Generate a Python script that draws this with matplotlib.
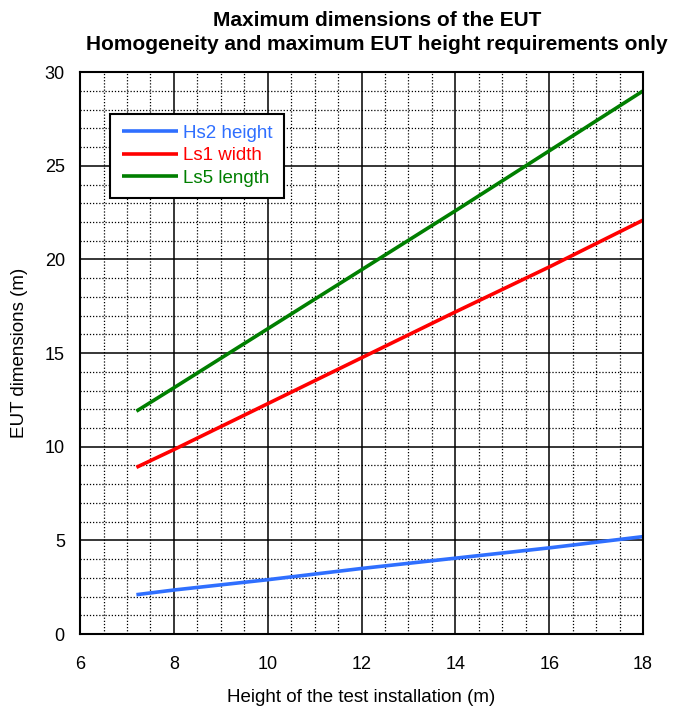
import matplotlib

matplotlib.use("Agg")
import matplotlib.pyplot as plt
from matplotlib.ticker import MultipleLocator

plt.rcParams["font.family"] = ["Liberation Sans", "DejaVu Sans"]

# test installation height (m)
install_height = [7.2, 8, 10, 12, 14, 16, 18]

# EUT dimensions (m)
hs2_height = [2.1, 2.35, 2.9, 3.5, 4.05, 4.6, 5.2]
ls1_width = [8.9, 9.85, 12.3, 14.75, 17.2, 19.6, 22.1]
ls5_length = [11.9, 13.15, 16.3, 19.45, 22.6, 25.8, 29.0]

series_labels = ["Hs2 height", "Ls1 width", "Ls5 length"]
series_colors = ["#2F6FFF", "#FF0000", "#007F00"]

fig = plt.figure(figsize=(6.79, 7.08), dpi=100)
ax = fig.add_axes([0.118, 0.1045, 0.829, 0.7935])

for vals, lab, col in zip([hs2_height, ls1_width, ls5_length], series_labels, series_colors):
    ax.plot(install_height, vals, color=col, lw=2.6, label=lab, solid_capstyle="butt")

ax.set_xlim(6, 18)
ax.set_ylim(0, 30)
ax.xaxis.set_major_locator(MultipleLocator(2))
ax.xaxis.set_minor_locator(MultipleLocator(0.5))
ax.yaxis.set_major_locator(MultipleLocator(5))
ax.yaxis.set_minor_locator(MultipleLocator(1))
ax.grid(which="major", color="black", lw=1.1, ls="-")
ax.grid(which="minor", color="black", lw=0.9, ls=(0, (1, 1.5)))
ax.set_axisbelow(True)
ax.tick_params(which="both", length=0, labelsize=13)
ax.tick_params(axis="x", pad=16)
ax.tick_params(axis="y", pad=11)
for sp in ax.spines.values():
    sp.set_linewidth(1.5)

ax.set_xlabel("Height of the test installation (m)", fontsize=13.5, labelpad=11)
ax.set_ylabel("EUT dimensions (m)", fontsize=13.5, labelpad=12)
ax.set_title("Maximum dimensions of the EUT\nHomogeneity and maximum EUT height requirements only",
             fontsize=15, fontweight="bold", pad=16, linespacing=1.3, x=0.527)

leg = ax.legend(loc="upper left", bbox_to_anchor=(0.037, 0.943), fontsize=13.5,
                frameon=True, fancybox=False, edgecolor="black", framealpha=1,
                handlelength=3.0, handletextpad=0.3, labelspacing=0.28, borderpad=0.6)
leg.get_frame().set_linewidth(1.5)
for txt, col in zip(leg.get_texts(), series_colors):
    txt.set_color(col)

fig.savefig("out.png", dpi=100)
